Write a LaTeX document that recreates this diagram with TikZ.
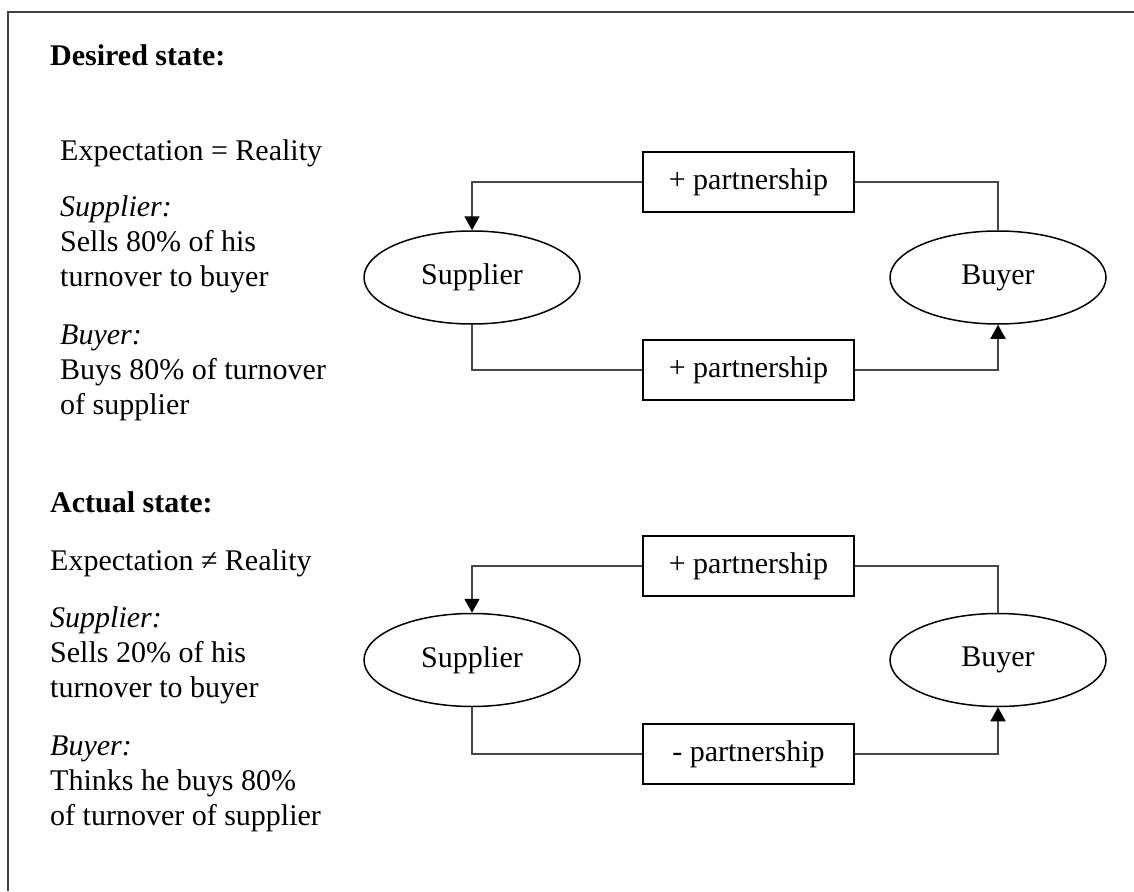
\documentclass[tikz,border=0pt]{standalone}
\usepackage{fontspec}
\setmainfont{Liberation Serif}
\usetikzlibrary{arrows.meta,shapes.geometric}
\begin{document}
\begin{tikzpicture}[x=1pt,y=-1pt,
  txt/.style={anchor=base west,inner sep=0pt,font=\fontsize{30}{35}\selectfont},
  ttl/.style={anchor=base west,inner sep=0pt,font=\fontsize{30}{35}\selectfont\bfseries},
  ital/.style={anchor=base west,inner sep=0pt,font=\fontsize{30}{35}\selectfont\itshape},
  pbox/.style={draw=black,line width=1.5pt,minimum width=211pt,minimum height=60pt,inner sep=0pt,font=\fontsize{30}{35}\selectfont},
  actor/.style={ellipse,draw=black,line width=1.5pt,minimum width=216pt,minimum height=93pt,inner sep=0pt,font=\fontsize{30}{35}\selectfont},
  conn/.style={draw=black!72,line width=1.8pt},
  arr/.style={conn,-{Triangle[width=15pt,length=14pt,black]}}
]
\useasboundingbox (0,0) rectangle (1134,891);
\draw[black!75,line width=2pt] (7.5,891) -- (7.5,12) -- (1134,12);

% Section 1 text
\node[ttl]  (d0) at (50,65)  {Desired state:};
\node[txt]  (d1) at (60,160) {Expectation = Reality};
\node[ital] (d2) at (60,216) {Supplier:};
\node[txt]  (d3) at (60,251) {Sells 80\% of his};
\node[txt]  (d4) at (60,286) {turnover to buyer};
\node[ital] (d5) at (60,344) {Buyer:};
\node[txt]  (d6) at (60,379) {Buys 80\% of turnover};
\node[txt]  (d7) at (60,414) {of supplier};

% Section 2 text
\node[ttl]  (a0) at (50,512) {Actual state:};
\node[txt]  (a1) at (50,570) {Expectation ≠ Reality};
\node[ital] (a2) at (50,627) {Supplier:};
\node[txt]  (a3) at (50,662) {Sells 20\% of his};
\node[txt]  (a4) at (50,697) {turnover to buyer};
\node[ital] (a5) at (50,755) {Buyer:};
\node[txt]  (a6) at (50,790) {Thinks he buys 80\%};
\node[txt]  (a7) at (50,825) {of turnover of supplier};

% Section 1 diagram
\node[pbox]  (tb1) at (748.5,182) {+ partnership};
\node[pbox]  (bb1) at (748.5,370) {+ partnership};
\node[actor] (s1)  at (472,277.5) {Supplier};
\node[actor] (b1)  at (998,277.5) {Buyer};
\draw[arr]  (tb1.west) -| (s1.north);
\draw[conn] (b1.north) |- (tb1.east);
\draw[conn] (s1.south) |- (bb1.west);
\draw[arr]  (bb1.east) -| (b1.south);

% Section 2 diagram
\node[pbox]  (tb2) at (748.5,566) {+ partnership};
\node[pbox]  (bb2) at (748.5,754) {- partnership};
\node[actor] (s2)  at (472,660) {Supplier};
\node[actor] (b2)  at (998,660) {Buyer};
\draw[arr]  (tb2.west) -| (s2.north);
\draw[conn] (b2.north) |- (tb2.east);
\draw[conn] (s2.south) |- (bb2.west);
\draw[arr]  (bb2.east) -| (b2.south);
\end{tikzpicture}
\end{document}
